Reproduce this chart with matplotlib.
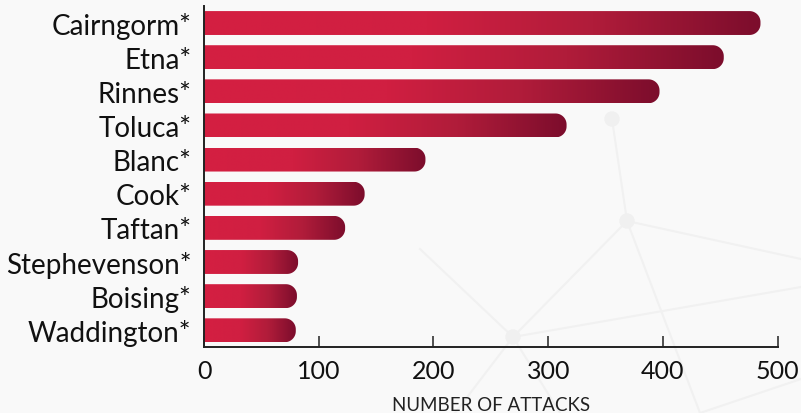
import numpy as np
import matplotlib
matplotlib.use("Agg")
import matplotlib.pyplot as plt
from matplotlib.colors import LinearSegmentedColormap
from matplotlib.path import Path
from matplotlib.patches import PathPatch, Ellipse
from matplotlib.lines import Line2D

plt.rcParams["font.family"] = ["Lato", "DejaVu Sans"]

# Attack counts per target (top to bottom)
targets = ["Cairngorm*", "Etna*", "Rinnes*", "Toluca*", "Blanc*",
           "Cook*", "Taftan*", "Stephevenson*", "Boising*", "Waddington*"]
attacks = [485, 453, 397, 316, 193, 140, 123, 82, 81, 80]
xticks = [0, 100, 200, 300, 400, 500]

W, H, DPI = 801, 414, 100
BG = "#f9f9f9"
fig = plt.figure(figsize=(W / DPI, H / DPI), dpi=DPI, facecolor=BG)


def fpt(x, y):
    """pixel position measured from the top-left corner -> figure fraction"""
    return x / W, 1 - y / H


# faint network decoration behind the chart
nodes = [(513, 338), (627, 222), (612, 120), (801, 288), (801, 260),
         (455, 414), (700, 414), (560, 414), (801, 380), (420, 250)]
edges = [(0, 1), (0, 3), (0, 5), (0, 7), (1, 2), (1, 4), (1, 6), (0, 9),
         (6, 8)]
for a, b in edges:
    (x0, y0), (x1, y1) = fpt(*nodes[a]), fpt(*nodes[b])
    fig.add_artist(Line2D([x0, x1], [y0, y1], transform=fig.transFigure,
                          color="#f1f1f1", lw=1.5, zorder=0))
for (x, y) in nodes[:3]:
    fx, fy = fpt(x, y)
    fig.add_artist(Ellipse((fx, fy), 14 / W, 14 / H, transform=fig.transFigure,
                           color="#f0f0f0", zorder=0))

left, right, top, bottom = 204, 777.7, 7.3, 348
ax = fig.add_axes([left / W, 1 - bottom / H, (right - left) / W, (bottom - top) / H])
ax.set_facecolor("none")

n = len(targets)
ypos = np.arange(n)[::-1]
ylo, yhi = -0.49, n - 0.51

cmap = LinearSegmentedColormap.from_list(
    "bar", [(0.0, "#d41f42"), (0.4, "#d01f41"), (0.7, "#b01c3a"), (1.0, "#7c0d2c")])
grad = np.linspace(0, 1, 256).reshape(1, -1)

# data units per pixel, for circular right-end caps
px_x = 500 / (right - left)
px_y = (yhi - ylo) / (bottom - top)
h = 0.35
r_px = 11.0
rx, ry = r_px * px_x, r_px * px_y

for y, v in zip(ypos, attacks):
    t1 = np.linspace(-np.pi / 2, 0, 20)
    t2 = np.linspace(0, np.pi / 2, 20)
    cx = v - rx
    verts = [(0, y - h), (cx, y - h)]
    verts += [(cx + rx * np.cos(t), y - h + ry + ry * np.sin(t)) for t in t1]
    verts += [(cx + rx * np.cos(t), y + h - ry + ry * np.sin(t)) for t in t2]
    verts += [(0, y + h), (0, y - h)]
    codes = [Path.MOVETO] + [Path.LINETO] * (len(verts) - 2) + [Path.CLOSEPOLY]
    patch = PathPatch(Path(verts, codes), facecolor="none", edgecolor="none")
    ax.add_patch(patch)
    im = ax.imshow(grad, cmap=cmap, aspect="auto", extent=(0, v, y - h, y + h),
                   interpolation="bilinear", zorder=2)
    im.set_clip_path(patch)

ax.set_xlim(0, 500)
ax.set_ylim(ylo, yhi)

ax.set_yticks(ypos)
ax.set_yticklabels(targets, fontsize=20, color="#111111")
ax.set_xticks(xticks)
ax.set_xticklabels([str(t) for t in xticks], fontsize=18, color="#111111")
ax.tick_params(axis="y", length=0, pad=9)
ax.tick_params(axis="x", direction="in", length=8, width=1.1, pad=9, color="#222222")
for s in ["top", "right"]:
    ax.spines[s].set_visible(False)
for s in ["left", "bottom"]:
    ax.spines[s].set_linewidth(1.4)
    ax.spines[s].set_color("#222222")
    ax.spines[s].set_zorder(3)

fig.text((left + right) / 2 / W, 1 - 411 / H, "NUMBER OF ATTACKS",
         ha="center", va="baseline", fontsize=13.5, color="#222222")

fig.savefig("out.png", dpi=DPI, facecolor=BG)
